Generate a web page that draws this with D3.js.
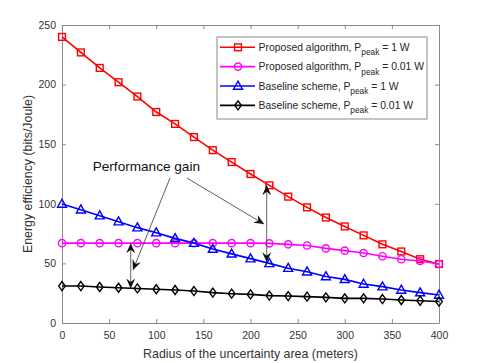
<!DOCTYPE html>
<html>
<head>
<meta charset="UTF-8">
<title>Energy efficiency vs radius</title>
<script src="https://cdn.jsdelivr.net/npm/d3@7"></script>
<style>
  body{margin:0;background:#fff;}
  svg{display:block;font-family:"Liberation Sans",Arial,sans-serif;}
  .axis path,.axis line{stroke:#8a8a8a;}
  .axis text{fill:#333;font-size:10.5px;}
</style>
</head>
<body>
<script>
// radius of the uncertainty area (meters)
var radius = [0,20,40,60,80,100,120,140,160,180,200,220,240,260,280,300,320,340,360,380,400];
// energy efficiency (bits/Joule)
var propHigh = [240,227,214,202,190,177,167,156,145,135,125,115.5,106,97,88.5,81,73.5,66,60,53.5,49.5];
var propLow  = [67,67,67,67,67,67,67,67,67,67,67,66.8,66,65,62.6,60.7,58.7,56,53.5,52,49.5];
var baseHigh = [99.8,95,90,85,80,75.8,71,67,62,58,54,50,46,43,39,36.6,32.7,30.5,27.7,25.5,23.5];
var baseLow  = [31,31,30.2,29.6,29,28.3,27.7,26.8,25.5,24.6,24,23,22.6,22.1,21.5,20.7,20.7,20.1,19.3,18.7,18];

var xTicks = [0,50,100,150,200,250,300,350,400];
var yTicks = [0,50,100,150,200,250];

var seriesNames = ["Proposed algorithm, P", "Proposed algorithm, P", "Baseline scheme, P", "Baseline scheme, P"];
var seriesTails = [" = 1 W", " = 0.01 W", " = 1 W", " = 0.01 W"];

// annotation: label, pointer lines and the two "gain" double arrows (data units)
var gainLabel = "Performance gain";
var gainLabelPos = [32.6, 127.5];
var pointers = [[[114.6,121.6],[75.3,44.5]], [[132.6,121.6],[214.3,83]]];
var gains = [[72.9,67,29], [217.2,115.5,51]];

var w = 485, h = 363;
var pLeft = 62, pRight = 439, pTop = 25, pBottom = 323;

var x = d3.scaleLinear().domain([0,400]).range([pLeft,pRight]);
var y = d3.scaleLinear().domain([0,250]).range([pBottom,pTop]);

var svg = d3.select("body").append("svg")
  .attr("width",w).attr("height",h);

// arrow head (matlab like)
svg.append("defs").append("marker")
  .attr("id","head")
  .attr("markerUnits","userSpaceOnUse")
  .attr("viewBox","-11 -6 12 12")
  .attr("refX",0).attr("refY",0)
  .attr("markerWidth",12).attr("markerHeight",12)
  .attr("orient","auto-start-reverse")
  .append("path")
  .attr("d","M0,0 L-10,-4.5 L-6.5,0 L-10,4.5 Z")
  .attr("fill","#111");

svg.append("rect").attr("x",pLeft).attr("y",pTop)
  .attr("width",pRight-pLeft).attr("height",pBottom-pTop).attr("fill","#fff");

// axes (ticks inside, box on)
svg.append("g").attr("class","axis")
  .attr("transform","translate(0,"+pBottom+")")
  .call(d3.axisBottom(x).tickValues(xTicks).tickSizeInner(-4).tickSizeOuter(0).tickPadding(9));
svg.append("g").attr("class","axis")
  .attr("transform","translate(0,"+pTop+")")
  .call(d3.axisTop(x).tickValues(xTicks).tickSizeInner(-4).tickSizeOuter(0).tickFormat(""));
svg.append("g").attr("class","axis")
  .attr("transform","translate("+pLeft+",0)")
  .call(d3.axisLeft(y).tickValues(yTicks).tickSizeInner(-4).tickSizeOuter(0).tickPadding(6));
svg.append("g").attr("class","axis")
  .attr("transform","translate("+pRight+",0)")
  .call(d3.axisRight(y).tickValues(yTicks).tickSizeInner(-4).tickSizeOuter(0).tickFormat(""));

svg.append("text")
  .attr("x",(pLeft+pRight)/2).attr("y",357.5)
  .attr("text-anchor","middle").attr("font-size","12.4px").attr("fill","#333")
  .text("Radius of the uncertainty area (meters)");
svg.append("text")
  .attr("transform","translate(32,"+((pTop+pBottom)/2)+") rotate(-90)")
  .attr("text-anchor","middle").attr("font-size","12.4px").attr("fill","#333")
  .text("Energy efficiency (bits/Joule)");

var series = [
  {v:propHigh, color:"#ff0000", shape:"square"},
  {v:propLow,  color:"#ff00ff", shape:"circle"},
  {v:baseHigh, color:"#0000ff", shape:"triangle"},
  {v:baseLow,  color:"#000000", shape:"diamond"}
];

function marker(g, shape, color){
  if(shape=="square"){
    g.append("rect").attr("x",-3.4).attr("y",-3.4).attr("width",6.8).attr("height",6.8);
  }else if(shape=="circle"){
    g.append("circle").attr("r",3.6);
  }else if(shape=="triangle"){
    g.append("path").attr("d","M0,-4.8 L4.5,3.2 L-4.5,3.2 Z");
  }else{
    g.append("path").attr("d","M0,-4.5 L3.3,0 L0,4.5 L-3.3,0 Z");
  }
  g.selectAll("*").attr("fill","none").attr("stroke",color).attr("stroke-width",1.4);
}

var line = d3.line().x(function(d){ return x(d[0]); }).y(function(d){ return y(d[1]); });

series.forEach(function(s){
  var pts = radius.map(function(r,i){ return [r, s.v[i]]; });
  svg.append("path").datum(pts)
    .attr("d",line).attr("fill","none")
    .attr("stroke",s.color).attr("stroke-width",1.6);
  svg.append("g").selectAll("g")
    .data(pts).enter().append("g")
    .attr("transform",function(d){ return "translate("+x(d[0])+","+y(d[1])+")"; })
    .each(function(){ marker(d3.select(this), s.shape, s.color); });
});

// annotations
svg.append("text")
  .attr("x",x(gainLabelPos[0])).attr("y",y(gainLabelPos[1]))
  .attr("font-size","13.6px").attr("fill","#111")
  .text(gainLabel);

svg.append("g").selectAll("line")
  .data(pointers).enter().append("line")
  .attr("x1",function(d){ return x(d[0][0]); })
  .attr("y1",function(d){ return y(d[0][1]); })
  .attr("x2",function(d){ return x(d[1][0]); })
  .attr("y2",function(d){ return y(d[1][1]); })
  .attr("stroke","#333").attr("stroke-width",0.8)
  .attr("marker-end","url(#head)");

svg.append("g").selectAll("line")
  .data(gains).enter().append("line")
  .attr("x1",function(d){ return x(d[0]); })
  .attr("y1",function(d){ return y(d[1]); })
  .attr("x2",function(d){ return x(d[0]); })
  .attr("y2",function(d){ return y(d[2]); })
  .attr("stroke","#555").attr("stroke-width",0.9)
  .attr("marker-start","url(#head)")
  .attr("marker-end","url(#head)");

// legend
var lg = svg.append("g");
lg.append("rect").attr("x",217).attr("y",37).attr("width",210).attr("height",82)
  .attr("fill","#fff").attr("stroke","#8a8a8a").attr("stroke-width",1);

var rows = lg.selectAll("g.row").data(series).enter().append("g")
  .attr("class","row")
  .attr("transform",function(d,i){ return "translate(0,"+(47.3+i*19.35)+")"; });

rows.append("line").attr("x1",220).attr("x2",255).attr("y1",0).attr("y2",0)
  .attr("stroke",function(d){ return d.color; }).attr("stroke-width",1.6);
rows.append("g").attr("transform","translate(238,0)")
  .each(function(d){ marker(d3.select(this), d.shape, d.color); });

var txt = rows.append("text").attr("x",258.5).attr("y",3.6)
  .attr("font-size","10.4px").attr("fill","#262626");
txt.append("tspan").text(function(d,i){ return seriesNames[i]; });
txt.append("tspan").attr("dy",4.3).attr("font-size","8.3px").text("peak");
txt.append("tspan").attr("dy",-4.3).text(function(d,i){ return seriesTails[i]; });
</script>
</body>
</html>
